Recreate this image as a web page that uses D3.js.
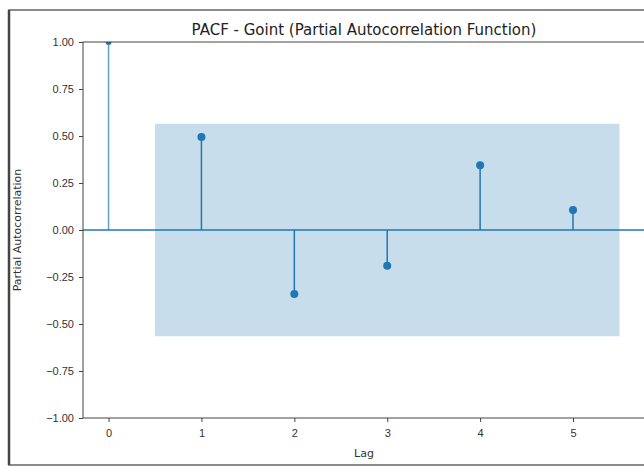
<!DOCTYPE html>
<html>
<head>
<meta charset="utf-8">
<script src="https://cdn.jsdelivr.net/npm/d3@7"></script>
<style>
  body { margin: 0; background: #fff; }
  svg { display: block; font-family: "DejaVu Sans", sans-serif; }
</style>
</head>
<body>
<svg id="chart" width="644" height="467"></svg>
<script>
// data
var lags = [0, 1, 2, 3, 4, 5];
var pacf = [1.0, 0.495, -0.34, -0.19, 0.345, 0.106];
var confLimit = 0.565;
var confRange = [0.5, 5.5];
var yTicks = [-1.0, -0.75, -0.5, -0.25, 0.0, 0.25, 0.5, 0.75, 1.0];

var svg = d3.select("#chart");
var margin = {top: 42, left: 83, bottom: 49, right: -1};
var w = 644 - margin.left - margin.right;
var h = 467 - margin.top - margin.bottom;

// outer screenshot frame
svg.append("rect").attr("x", 9).attr("y", 10).attr("width", 640).attr("height", 455)
  .attr("fill", "none").attr("stroke", "#666").attr("stroke-width", 1.5);
svg.append("line").attr("x1", 9).attr("x2", 9).attr("y1", 10).attr("y2", 465)
  .attr("stroke", "#444").attr("stroke-width", 2.5);

var g = svg.append("g").attr("transform", "translate(" + margin.left + "," + margin.top + ")");

var xScale = d3.scaleLinear().domain([-0.275, 5.775]).range([0, w]);
var yScale = d3.scaleLinear().domain([-1, 1]).range([h, 0]);
var blue = "#1f77b4";

// confidence band
g.append("rect")
  .attr("x", xScale(confRange[0])).attr("width", xScale(confRange[1]) - xScale(confRange[0]))
  .attr("y", yScale(confLimit)).attr("height", yScale(-confLimit) - yScale(confLimit))
  .attr("fill", blue).attr("fill-opacity", 0.25);

// zero line
g.append("line").attr("x1", 0).attr("x2", w).attr("y1", yScale(0)).attr("y2", yScale(0))
  .attr("stroke", blue).attr("stroke-width", 1.5);

var pts = lags.map(function(d, i){ return {lag: d, v: pacf[i]}; });

g.selectAll(".stem").data(pts).enter().append("line").attr("class", "stem")
  .attr("x1", function(d){ return xScale(d.lag); }).attr("x2", function(d){ return xScale(d.lag); })
  .attr("y1", yScale(0)).attr("y2", function(d){ return yScale(d.v); })
  .attr("stroke", blue).attr("stroke-width", 1.5)
  .attr("stroke-opacity", function(d){ return d.lag === 0 ? 0.7 : 1; });

var clip = svg.append("clipPath").attr("id", "plotclip");
clip.append("rect").attr("width", w).attr("height", h);

g.append("g").attr("clip-path", "url(#plotclip)")
  .selectAll("circle").data(pts).enter().append("circle")
  .attr("cx", function(d){ return xScale(d.lag); })
  .attr("cy", function(d){ return yScale(d.v); })
  .attr("r", function(d){ return d.lag === 0 ? 3 : 4; })
  .attr("fill", blue);

// axes frame
g.append("rect").attr("width", w).attr("height", h).attr("fill", "none")
  .attr("stroke", "#444").attr("stroke-width", 1);

var xAxis = g.append("g").attr("transform", "translate(0," + h + ")")
  .call(d3.axisBottom(xScale).tickValues(lags).tickSize(4).tickPadding(7).tickFormat(d3.format("d")));
var yAxis = g.append("g")
  .call(d3.axisLeft(yScale).tickValues(yTicks).tickSize(4).tickPadding(5)
    .tickFormat(function(d){ return d3.format(".2f")(d).replace("-", "\u2212"); }));

[xAxis, yAxis].forEach(function(a){
  a.select(".domain").remove();
  a.selectAll("line").attr("stroke", "#444");
  a.selectAll("text").attr("fill", "#333").style("font-size", "11px");
});

svg.append("text").attr("x", margin.left + w / 2).attr("y", 35).attr("text-anchor", "middle")
  .attr("fill", "#222").style("font-size", "15px")
  .text("PACF - Goint (Partial Autocorrelation Function)");

svg.append("text").attr("x", margin.left + w / 2).attr("y", 457).attr("text-anchor", "middle")
  .attr("fill", "#333").style("font-size", "11px").text("Lag");

svg.append("text").attr("transform", "translate(21," + (margin.top + h / 2) + ") rotate(-90)")
  .attr("text-anchor", "middle").attr("fill", "#333").style("font-size", "11px")
  .text("Partial Autocorrelation");
</script>
</body>
</html>
